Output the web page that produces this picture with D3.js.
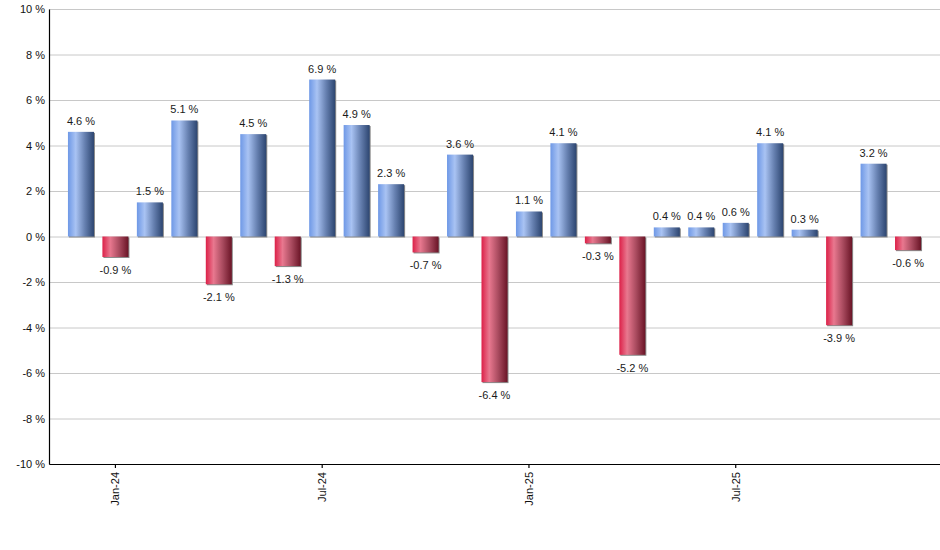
<!DOCTYPE html>
<html><head><meta charset="utf-8">
<script src="https://cdn.jsdelivr.net/npm/d3@7"></script>
<style>body{margin:0;background:#fff}svg{display:block;font-family:"Liberation Sans",Arial,sans-serif}</style>
</head><body><svg id="c" width="940" height="550"></svg>
<script>
const months = ["Dec-23","Jan-24","Feb-24","Mar-24","Apr-24","May-24","Jun-24","Jul-24","Aug-24","Sep-24","Oct-24","Nov-24","Dec-24","Jan-25","Feb-25","Mar-25","Apr-25","May-25","Jun-25","Jul-25","Aug-25","Sep-25","Oct-25","Nov-25","Dec-25"];
const values = [4.6,-0.9,1.5,5.1,-2.1,4.5,-1.3,6.9,4.9,2.3,-0.7,3.6,-6.4,1.1,4.1,-0.3,-5.2,0.4,0.4,0.6,4.1,0.3,-3.9,3.2,-0.6];
const xTickLabels = ["Jan-24","Jul-24","Jan-25","Jul-25"];
const yTicks = [-10,-8,-6,-4,-2,0,2,4,6,8,10];

const svg = d3.select("#c");
const L = 49, R = 940, T = 9, B = 464;
const x = d3.scaleBand().domain(months).range([L, R]).paddingInner(0.245).paddingOuter(0.55);
const y = d3.scaleLinear().domain([-10, 10]).range([B, T]);

const defs = svg.append("defs");
function grad(id, stops){
  const g = defs.append("linearGradient").attr("id", id).attr("x1","0").attr("x2","1").attr("y1","0").attr("y2","0");
  stops.forEach(s => g.append("stop").attr("offset", s[0]).attr("stop-color", s[1]));
}
grad("gBlue", [[0,"#6e98e6"],[0.3,"#a9c3f3"],[0.65,"#6680b0"],[1,"#2c4570"]]);
grad("gRed", [[0,"#dc2048"],[0.3,"#e8788f"],[0.65,"#a84a5e"],[1,"#6a1426"]]);

// grid
svg.append("g").selectAll("line").data(yTicks).join("line")
  .attr("x1", L).attr("x2", R).attr("y1", d => y(d) + 0.5).attr("y2", d => y(d) + 0.5)
  .attr("stroke", "#c8c8c8").attr("stroke-width", 1);

// bars: shadow then bar
const bars = svg.append("g");
const data = months.map((m, i) => ({m, v: values[i]}));
bars.selectAll("rect.sh").data(data).join("rect").attr("class","sh")
  .attr("x", d => x(d.m) + 1).attr("width", x.bandwidth())
  .attr("y", d => Math.min(y(d.v), y(0)) + 1)
  .attr("height", d => Math.abs(y(d.v) - y(0)))
  .attr("fill", "#8a8a8a");
bars.selectAll("rect.b").data(data).join("rect").attr("class","b")
  .attr("x", d => x(d.m)).attr("width", x.bandwidth())
  .attr("y", d => Math.min(y(d.v), y(0)))
  .attr("height", d => Math.abs(y(d.v) - y(0)))
  .attr("fill", d => d.v >= 0 ? "url(#gBlue)" : "url(#gRed)");

// labels
svg.append("g").selectAll("text").data(data).join("text")
  .attr("x", d => x(d.m) + x.bandwidth() / 2)
  .attr("y", d => d.v >= 0 ? y(d.v) - 7 : y(d.v) + 17)
  .attr("text-anchor", "middle").attr("font-size", 11).attr("fill", "#1a1a1a")
  .text(d => d.v.toFixed(1) + " %");

// y axis
const ya = svg.append("g").attr("transform", `translate(${L},0)`)
  .call(d3.axisLeft(y).tickValues(yTicks).tickSize(0).tickPadding(4).tickFormat(d => d + " %"));
ya.select(".domain").attr("stroke", "#000").attr("stroke-width", 1.2);
ya.selectAll("text").attr("font-size", 11).attr("fill", "#111").attr("font-family", '"Liberation Sans",Arial,sans-serif');

// x axis
const xa = svg.append("g").attr("transform", `translate(0,${B})`)
  .call(d3.axisBottom(x).tickValues(xTickLabels).tickSize(4).tickSizeOuter(0));
xa.select(".domain").attr("stroke", "#000").attr("stroke-width", 1.2);
xa.selectAll(".tick line").attr("stroke", "#000").attr("stroke-width", 1.2);
xa.selectAll("text").attr("font-size", 11).attr("fill", "#111").attr("font-family", '"Liberation Sans",Arial,sans-serif')
  .attr("transform", "rotate(-90)").attr("text-anchor", "end").attr("dy", "0.35em").attr("x", -8).attr("y", 0);
</script></body></html>
